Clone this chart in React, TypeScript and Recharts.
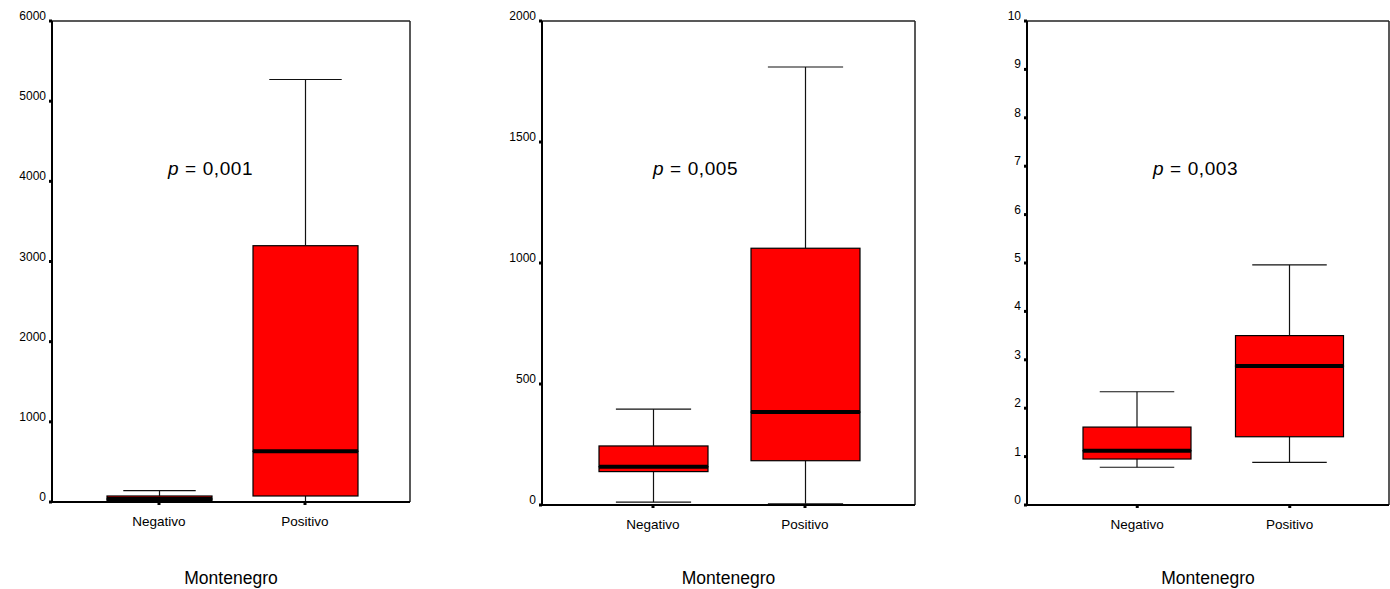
import { Bar, ComposedChart, XAxis, YAxis } from "recharts";

// Kategorien und Boxplot-Kennwerte je Panel
const CATEGORIES = ["Negativo", "Positivo"];

const P1_MIN = [0, 0];
const P1_Q1 = [12, 75];
const P1_MEDIAN = [37, 633];
const P1_Q3 = [75, 3197];
const P1_MAX = [141, 5270];
const P1_TICKS = [0, 1000, 2000, 3000, 4000, 5000, 6000];

const P2_MIN = [12, 5];
const P2_Q1 = [138, 183];
const P2_MEDIAN = [158, 384];
const P2_Q3 = [244, 1061];
const P2_MAX = [396, 1810];
const P2_TICKS = [0, 500, 1000, 1500, 2000];

const P3_MIN = [0.78, 0.88];
const P3_Q1 = [0.95, 1.41];
const P3_MEDIAN = [1.12, 2.87];
const P3_Q3 = [1.61, 3.5];
const P3_MAX = [2.34, 4.96];
const P3_TICKS = [0, 1, 2, 3, 4, 5, 6, 7, 8, 9, 10];

const P_VALUES = ["0,001", "0,005", "0,003"];
const X_TITLE = "Montenegro";

const FONT = "'Liberation Sans', Arial, sans-serif";
const RED = "#ff0000";

type Stats = { min: number[]; q1: number[]; med: number[]; q3: number[]; max: number[] };

function buildRows(s: Stats) {
  return CATEGORIES.map((name, i) => ({
    name,
    base: s.min[i],
    lowW: s.q1[i] - s.min[i],
    lowBox: s.med[i] - s.q1[i],
    upBox: s.q3[i] - s.med[i],
    upW: s.max[i] - s.q3[i],
  }));
}

const CAP = 0.69;

function LowWhisker(p: any) {
  const { x, y, width, height } = p;
  const cx = x + width / 2;
  const c = (width * CAP) / 2;
  return (
    <g>
      <line x1={cx} x2={cx} y1={y} y2={y + height} stroke="#111" strokeWidth={1.2} />
      <line x1={cx - c} x2={cx + c} y1={y + height} y2={y + height} stroke="#111" strokeWidth={1.2} />
    </g>
  );
}

function UpWhisker(p: any) {
  const { x, y, width, height } = p;
  const cx = x + width / 2;
  const c = (width * CAP) / 2;
  return (
    <g>
      <line x1={cx} x2={cx} y1={y} y2={y + height} stroke="#111" strokeWidth={1.2} />
      <line x1={cx - c} x2={cx + c} y1={y} y2={y} stroke="#111" strokeWidth={1.2} />
    </g>
  );
}

function LowBox(p: any) {
  const { x, y, width, height } = p;
  return <rect x={x} y={y} width={width} height={Math.max(height, 0)} fill={RED} stroke="#000" strokeWidth={1.2} />;
}

// oberer Kasten, Median als dicke Linie an der Unterkante
function UpBox(p: any) {
  const { x, y, width, height } = p;
  return (
    <g>
      <rect x={x} y={y} width={width} height={Math.max(height, 0)} fill={RED} stroke="#000" strokeWidth={1.2} />
      <line x1={x} x2={x + width} y1={y + height} y2={y + height} stroke="#000" strokeWidth={4} />
    </g>
  );
}

function YTick(p: any) {
  const { x, y, payload } = p;
  return (
    <text x={x} y={y - 5} textAnchor="end" dominantBaseline="central" fontSize={12} fill="#000" fontFamily={FONT}>
      {payload.value}
    </text>
  );
}

function XTick(p: any) {
  const { x, y, payload } = p;
  return (
    <text x={x} y={y + 14} textAnchor="middle" dominantBaseline="central" fontSize={13.5} fill="#000" fontFamily={FONT}>
      {payload.value}
    </text>
  );
}

type PanelProps = {
  left: number;
  width: number;
  xHeight: number;
  right: number;
  stats: Stats;
  domain: [number, number];
  ticks: number[];
  padding: { left: number; right: number };
  barSize: number;
  pValue: string;
  pLeft: number;
};

function Panel(pp: PanelProps) {
  const rows = buildRows(pp.stats);
  return (
    <div style={{ position: "absolute", left: pp.left, top: 0, width: pp.width, height: 589 }}>
      <ComposedChart width={pp.width} height={589} data={rows} margin={{ top: 20, right: pp.right, bottom: 0, left: 0 }}>
        {/* Rahmen oben und rechts */}
        <XAxis xAxisId="top" dataKey="name" orientation="top" height={1} tick={false} tickLine={false} axisLine={{ stroke: "#222", strokeWidth: 1.5 }} />
        <YAxis yAxisId="right" orientation="right" width={1} domain={pp.domain} tick={false} tickLine={false} axisLine={{ stroke: "#222", strokeWidth: 1.5 }} />
        <XAxis
          dataKey="name"
          height={pp.xHeight}
          padding={pp.padding}
          axisLine={{ stroke: "#000", strokeWidth: 2 }}
          tickLine={{ stroke: "#000", strokeWidth: 3 }}
          tickSize={3}
          tickMargin={2}
          tick={<XTick />}
          label={{ value: X_TITLE, position: "insideBottom", offset: 5, fontSize: 17.5, fill: "#000", fontFamily: FONT }}
        />
        <YAxis
          width={52}
          domain={pp.domain}
          ticks={pp.ticks}
          interval={0}
          allowDataOverflow
          axisLine={{ stroke: "#000", strokeWidth: 2 }}
          tickLine={{ stroke: "#000", strokeWidth: 3 }}
          tickSize={3}
          tickMargin={3}
          tick={<YTick />}
        />
        <Bar dataKey="base" stackId="b" fill="none" barSize={pp.barSize} isAnimationActive={false} />
        <Bar dataKey="lowW" stackId="b" shape={<LowWhisker />} barSize={pp.barSize} isAnimationActive={false} />
        <Bar dataKey="lowBox" stackId="b" shape={<LowBox />} barSize={pp.barSize} isAnimationActive={false} />
        <Bar dataKey="upBox" stackId="b" shape={<UpBox />} barSize={pp.barSize} isAnimationActive={false} />
        <Bar dataKey="upW" stackId="b" shape={<UpWhisker />} barSize={pp.barSize} isAnimationActive={false} />
      </ComposedChart>
      <div
        style={{
          position: "absolute",
          left: pp.pLeft,
          top: 158,
          fontFamily: FONT,
          fontSize: 19,
          lineHeight: "22px",
          whiteSpace: "nowrap",
          color: "#000",
          letterSpacing: 0.6,
        }}
      >
        <i>p</i> = {pp.pValue}
      </div>
    </div>
  );
}

export default function App() {
  return (
    <div style={{ position: "absolute", left: 0, top: 0, width: 1390, height: 589, background: "#fff", overflow: "hidden" }}>
      <Panel
        left={0}
        width={420}
        xHeight={87}
        right={9}
        stats={{ min: P1_MIN, q1: P1_Q1, med: P1_MEDIAN, q3: P1_Q3, max: P1_MAX }}
        domain={[0, 6000]}
        ticks={P1_TICKS}
        padding={{ left: 34, right: 32 }}
        barSize={105}
        pValue={P_VALUES[0]}
        pLeft={168}
      />
      <Panel
        left={490}
        width={430}
        xHeight={84}
        right={4}
        stats={{ min: P2_MIN, q1: P2_Q1, med: P2_MEDIAN, q3: P2_Q3, max: P2_MAX }}
        domain={[0, 2000]}
        ticks={P2_TICKS}
        padding={{ left: 35, right: 34 }}
        barSize={109}
        pValue={P_VALUES[1]}
        pLeft={163}
      />
      <Panel
        left={975}
        width={415}
        xHeight={84}
        right={0}
        stats={{ min: P3_MIN, q1: P3_Q1, med: P3_MEDIAN, q3: P3_Q3, max: P3_MAX }}
        domain={[0, 10]}
        ticks={P3_TICKS}
        padding={{ left: 34, right: 23 }}
        barSize={108}
        pValue={P_VALUES[2]}
        pLeft={178}
      />
    </div>
  );
}
